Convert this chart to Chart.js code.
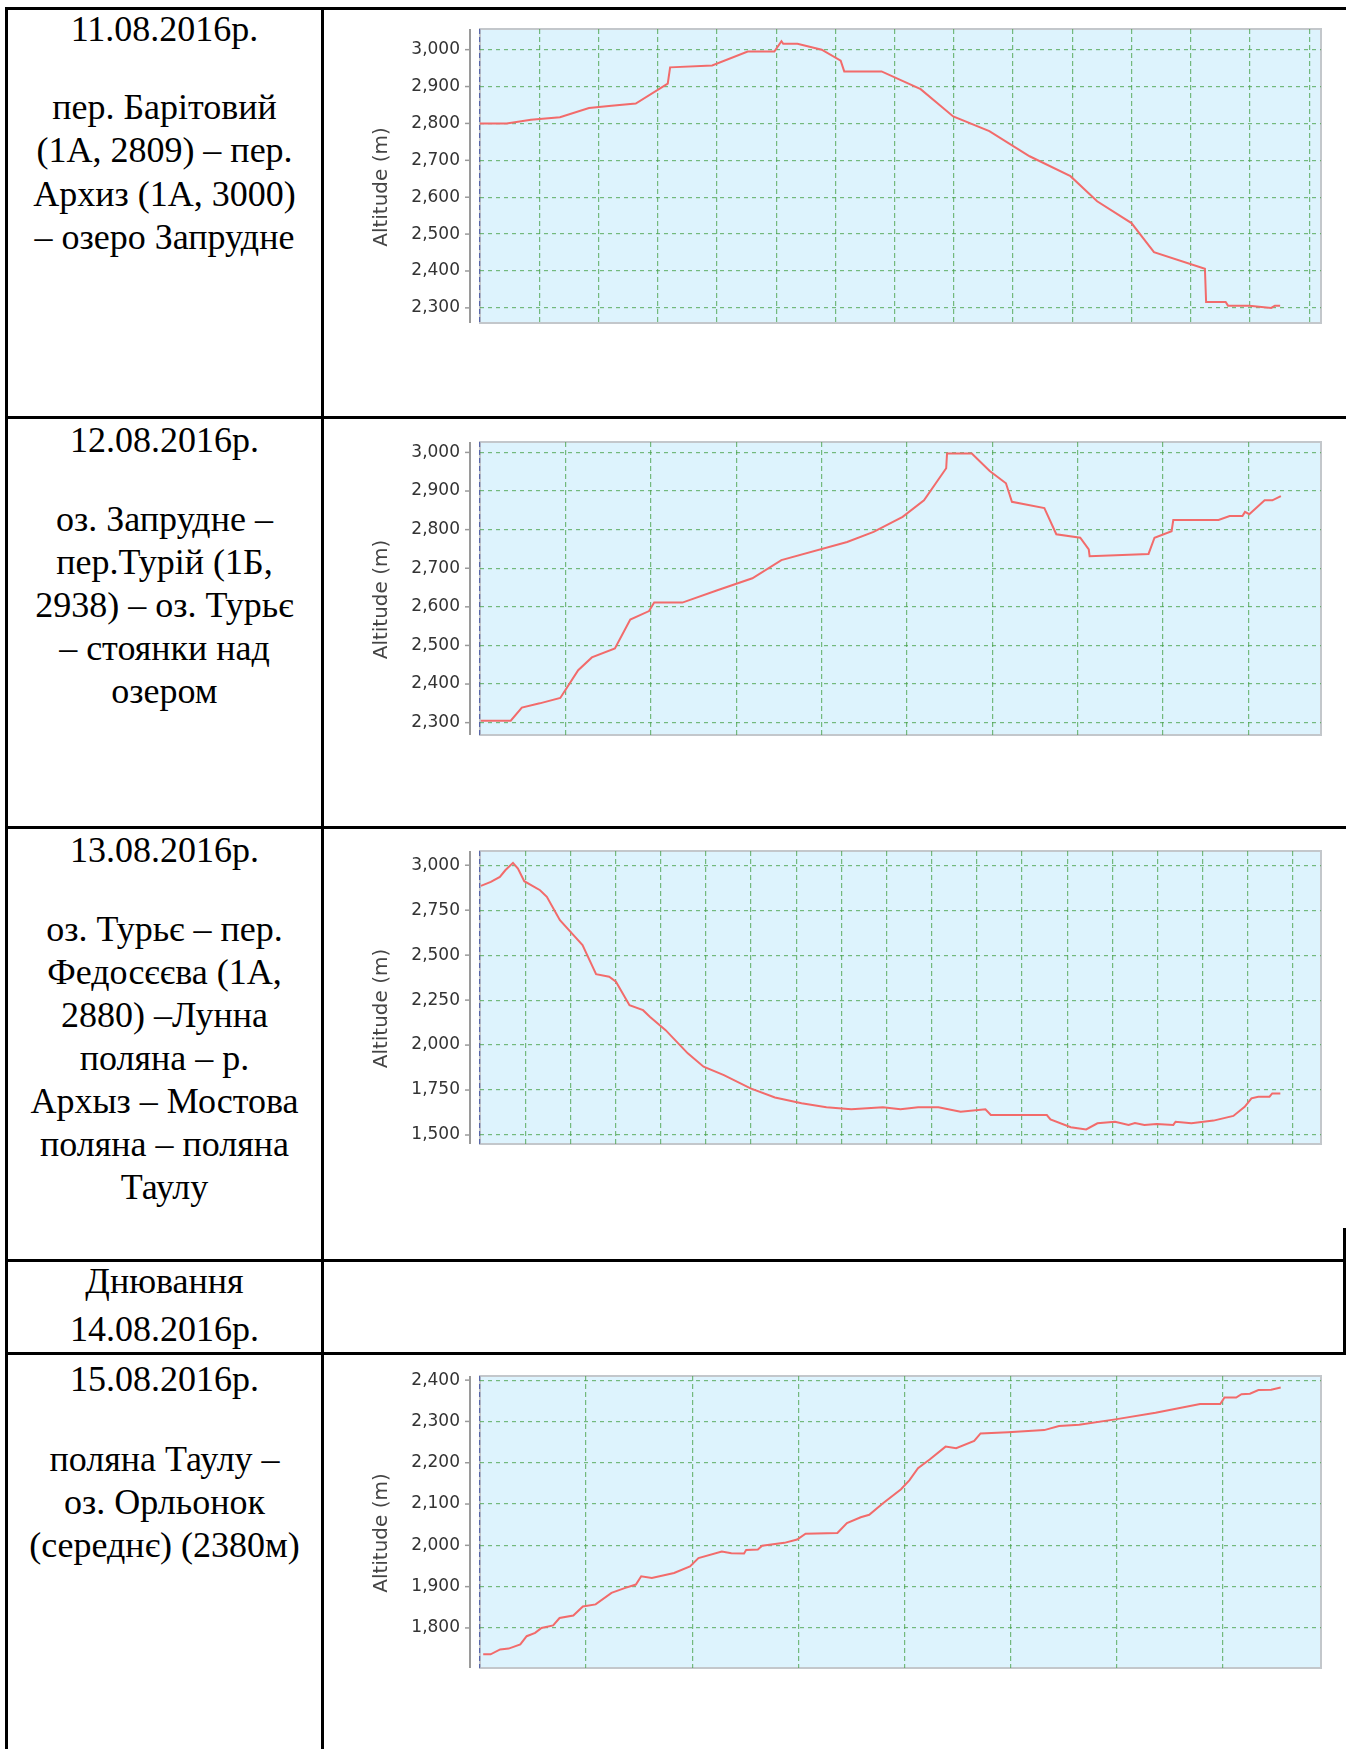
<!DOCTYPE html>
<html>
<head>
<meta charset="utf-8">
<script src="https://cdn.jsdelivr.net/npm/chart.js@4.4.0/dist/chart.umd.min.js"></script>
<style>
  body { margin: 0; background: #fff; }
  #page { position: relative; width: 1352px; height: 1749px; overflow: hidden; background: #fff; }
  .ln { position: absolute; background: #000; }
  .txt { position: absolute; left: 8px; width: 313px; text-align: center; white-space: nowrap;
         font-family: "Liberation Serif", "Times New Roman", serif; font-size: 36px; color: #000; }
  canvas { position: absolute; left: 340px; }
</style>
</head>
<body>
<div id="page">
  <!-- table lines -->
  <div class="ln" style="left:5px;top:7px;width:1341px;height:2.5px"></div>
  <div class="ln" style="left:5px;top:416px;width:1341px;height:2.5px"></div>
  <div class="ln" style="left:5px;top:826px;width:1341px;height:2.5px"></div>
  <div class="ln" style="left:5px;top:1259px;width:1341px;height:2.5px"></div>
  <div class="ln" style="left:5px;top:1352px;width:1341px;height:2.5px"></div>
  <div class="ln" style="left:5px;top:7px;width:2.5px;height:1742px"></div>
  <div class="ln" style="left:321px;top:7px;width:2.5px;height:1742px"></div>
  <div class="ln" style="left:1343px;top:1228px;width:2.5px;height:126px"></div>

  <!-- left column -->
  <div class="txt" style="top:8px;line-height:43.5px">11.08.2016р.</div>
  <div class="txt" style="top:86px;line-height:43.3px">пер. Барітовий<br>(1А, 2809) – пер.<br>Архиз (1А, 3000)<br>– озеро Запрудне</div>

  <div class="txt" style="top:419px;line-height:43.5px">12.08.2016р.</div>
  <div class="txt" style="top:498px;line-height:43px">оз. Запрудне –<br>пер.Турій (1Б,<br>2938) – оз. Турьє<br>– стоянки над<br>озером</div>

  <div class="txt" style="top:829px;line-height:43.5px">13.08.2016р.</div>
  <div class="txt" style="top:908px;line-height:43px">оз. Турьє – пер.<br>Федосєєва (1А,<br>2880) –Лунна<br>поляна – р.<br>Архыз – Мостова<br>поляна – поляна<br>Таулу</div>

  <div class="txt" style="top:1257px;line-height:48px">Днювання<br>14.08.2016р.</div>

  <div class="txt" style="top:1358px;line-height:43.5px">15.08.2016р.</div>
  <div class="txt" style="top:1438px;line-height:43px">поляна Таулу –<br>оз. Орльонок<br>(середнє) (2380м)</div>

  <canvas id="c1" width="1000" height="314" style="top:19px"></canvas>
  <canvas id="c2" width="1000" height="313" style="top:432px"></canvas>
  <canvas id="c3" width="1000" height="313" style="top:841px"></canvas>
  <canvas id="c4" width="1000" height="312" style="top:1366px"></canvas>
</div>

<script>
// 11.08 - distance in grid units, altitude in m
var day1Dist = [0, 0.45, 0.86, 1.35, 1.84, 2.22, 2.63, 3.17, 3.21, 3.92, 4.52, 4.97, 5.09, 5.12, 5.36, 5.77, 6.09, 6.15,
  6.78, 7.44, 7.99, 8.6, 9.28, 9.97, 10.42, 11.0, 11.38, 12.24, 12.26, 12.59, 12.63, 12.99, 13.36, 13.42, 13.51];
var day1Alt = [2800, 2800, 2810, 2817, 2842, 2848, 2854, 2908, 2952, 2957, 2995, 2995, 3023, 3016, 3016, 3000, 2970, 2941,
  2941, 2893, 2819, 2779, 2711, 2657, 2589, 2530, 2451, 2406, 2316, 2316, 2306, 2306, 2300, 2306, 2306];
var day1Ticks = [2300, 2400, 2500, 2600, 2700, 2800, 2900, 3000];

// 12.08
var day2Dist = [0.01, 0.36, 0.49, 0.70, 0.94, 1.15, 1.31, 1.58, 1.76, 1.98, 2.04, 2.37, 2.78, 3.19, 3.53, 4.30, 4.61,
  4.95, 5.20, 5.46, 5.47, 5.76, 5.97, 6.16, 6.23, 6.61, 6.75, 7.03, 7.13, 7.14, 7.83, 7.90, 8.10, 8.12, 8.65, 8.78,
  8.93, 8.96, 9.01, 9.19, 9.28, 9.38];
var day2Alt = [2305, 2305, 2339, 2350, 2364, 2436, 2469, 2492, 2567, 2589, 2611, 2611, 2643, 2674, 2721, 2768, 2794,
  2833, 2876, 2959, 2997, 2997, 2952, 2920, 2872, 2856, 2788, 2779, 2749, 2731, 2737, 2779, 2796, 2825, 2825, 2835,
  2835, 2846, 2840, 2876, 2876, 2887];
var day2Ticks = [2300, 2400, 2500, 2600, 2700, 2800, 2900, 3000];

// 13.08
var day3Dist = [0.02, 0.24, 0.44, 0.56, 0.73, 0.84, 0.98, 1.33, 1.48, 1.77, 2.07, 2.27, 2.57, 2.86, 3.01, 3.31, 3.61,
  3.76, 4.11, 4.60, 4.95, 5.40, 5.99, 6.53, 7.12, 7.67, 8.22, 8.92, 9.31, 9.70, 10.15, 10.64, 11.19, 11.31, 12.03,
  12.55, 12.63, 13.08, 13.42, 13.67, 14.06, 14.36, 14.5, 14.71, 14.98, 15.35, 15.40, 15.75, 16.24, 16.68, 16.93,
  17.08, 17.23, 17.48, 17.54, 17.72];
var day3Alt = [2885, 2907, 2935, 2972, 3013, 2981, 2911, 2861, 2824, 2694, 2611, 2556, 2394, 2380, 2352, 2222, 2194,
  2157, 2083, 1954, 1880, 1833, 1759, 1709, 1676, 1654, 1643, 1654, 1643, 1654, 1654, 1630, 1643, 1611, 1611,
  1611, 1587, 1543, 1531, 1565, 1574, 1556, 1567, 1556, 1561, 1556, 1574, 1565, 1580, 1606, 1657,
  1704, 1713, 1713, 1731, 1731];
var day3Ticks = [1500, 1750, 2000, 2250, 2500, 2750, 3000];

// 15.08
var day5Dist = [0.03, 0.1, 0.19, 0.27, 0.38, 0.44, 0.52, 0.58, 0.69, 0.75, 0.88, 0.97, 1.09, 1.24, 1.37, 1.47, 1.52,
  1.62, 1.83, 1.98, 2.06, 2.28, 2.37, 2.49, 2.51, 2.62, 2.66, 2.87, 2.99, 3.07, 3.37, 3.46, 3.59, 3.67, 3.80, 3.97,
  4.05, 4.13, 4.24, 4.39, 4.49, 4.66, 4.72, 4.98, 5.32, 5.46, 5.65, 5.99, 6.37, 6.79, 6.98, 7.02, 7.13, 7.18, 7.26,
  7.34, 7.46, 7.55];
var day5Alt = [1736, 1736, 1748, 1750, 1760, 1780, 1788, 1800, 1806, 1824, 1830, 1852, 1857, 1885, 1897, 1905, 1925,
  1921, 1933, 1949, 1969, 1985, 1981, 1980, 1989, 1990, 1999, 2006, 2014, 2028, 2030, 2054, 2068, 2074, 2102, 2136,
  2158, 2187, 2208, 2239, 2235, 2253, 2271, 2274, 2279, 2289, 2292, 2305, 2321, 2342, 2342, 2358, 2358, 2366, 2367,
  2376, 2377, 2382];
var day5Ticks = [1800, 1900, 2000, 2100, 2200, 2300, 2400];

var axisTitle = 'Altitude (m)';

var jfreeFrame = {
  id: 'jfreeFrame',
  beforeDraw: function (chart) {
    var a = chart.chartArea, ctx = chart.ctx;
    ctx.save();
    ctx.fillStyle = '#ddf3fd';
    ctx.fillRect(a.left, a.top, a.right - a.left, a.bottom - a.top);
    ctx.strokeStyle = '#c3c7cb';
    ctx.lineWidth = 2;
    ctx.strokeRect(a.left, a.top, a.right - a.left, a.bottom - a.top);
    ctx.restore();
  },
  afterDraw: function (chart) {
    var a = chart.chartArea, ctx = chart.ctx, y = chart.scales.y;
    ctx.save();
    ctx.strokeStyle = '#9a9a9a';
    ctx.lineWidth = 2;
    ctx.beginPath();
    ctx.moveTo(a.left - 10, a.top);
    ctx.lineTo(a.left - 10, a.bottom);
    ctx.stroke();
    ctx.lineWidth = 1.5;
    y.ticks.forEach(function (t) {
      var py = y.getPixelForValue(t.value);
      ctx.beginPath();
      ctx.moveTo(a.left - 15, py);
      ctx.lineTo(a.left - 10, py);
      ctx.stroke();
    });
    ctx.fillStyle = '#444';
    ctx.font = '20px "DejaVu Sans"';
    ctx.textAlign = 'center';
    ctx.textBaseline = 'middle';
    ctx.translate(42, (a.top + a.bottom) / 2 + 11);
    ctx.rotate(-Math.PI / 2);
    ctx.fillText(axisTitle, 0, 0);
    ctx.restore();
  }
};

function noPad(s) {
  s.paddingTop = 0; s.paddingBottom = 0; s.paddingLeft = 0; s.paddingRight = 0;
}

function makeChart(id, dist, alt, yTicks, xMax, yMin, yMax) {
  var pts = dist.map(function (d, i) { return { x: d, y: alt[i] }; });
  return new Chart(document.getElementById(id), {
    type: 'line',
    data: {
      datasets: [{
        data: pts,
        borderColor: '#f26b6b',
        borderWidth: 2,
        pointRadius: 0,
        tension: 0,
        fill: false
      }]
    },
    plugins: [jfreeFrame],
    options: {
      responsive: false,
      animation: false,
      locale: 'en-US',
      layout: { padding: { left: 0, right: 19, top: 10, bottom: 10 } },
      plugins: { legend: { display: false }, tooltip: { enabled: false } },
      scales: {
        x: {
          type: 'linear',
          min: 0,
          max: xMax,
          ticks: { display: false, stepSize: 1, includeBounds: false },
          border: { display: false, dash: [5, 3] },
          grid: {
            drawTicks: false,
            lineWidth: 1.2,
            color: function (c) { return c.tick && c.tick.value === 0 ? '#5866a8' : 'rgba(70,160,70,0.7)'; }
          },
          afterFit: function (s) { s.height = 0; noPad(s); }
        },
        y: {
          min: yMin,
          max: yMax,
          afterBuildTicks: function (s) {
            s.ticks = yTicks.map(function (v) { return { value: v }; });
          },
          ticks: {
            padding: 20,
            color: '#333',
            font: { family: 'DejaVu Sans', size: 17 }
          },
          border: { display: false, dash: [4, 4] },
          grid: { drawTicks: false, lineWidth: 1.2, color: 'rgba(70,160,70,0.7)' },
          afterFit: function (s) { s.width = 140; noPad(s); }
        }
      }
    }
  });
}

makeChart('c1', day1Dist, day1Alt, day1Ticks, 14.2, 2259, 3056);
makeChart('c2', day2Dist, day2Alt, day2Ticks, 9.85, 2268, 3027);
makeChart('c3', day3Dist, day3Alt, day3Ticks, 18.62, 1450, 3079);
makeChart('c4', day5Dist, day5Alt, day5Ticks, 7.93, 1703, 2410);
</script>
</body>
</html>
